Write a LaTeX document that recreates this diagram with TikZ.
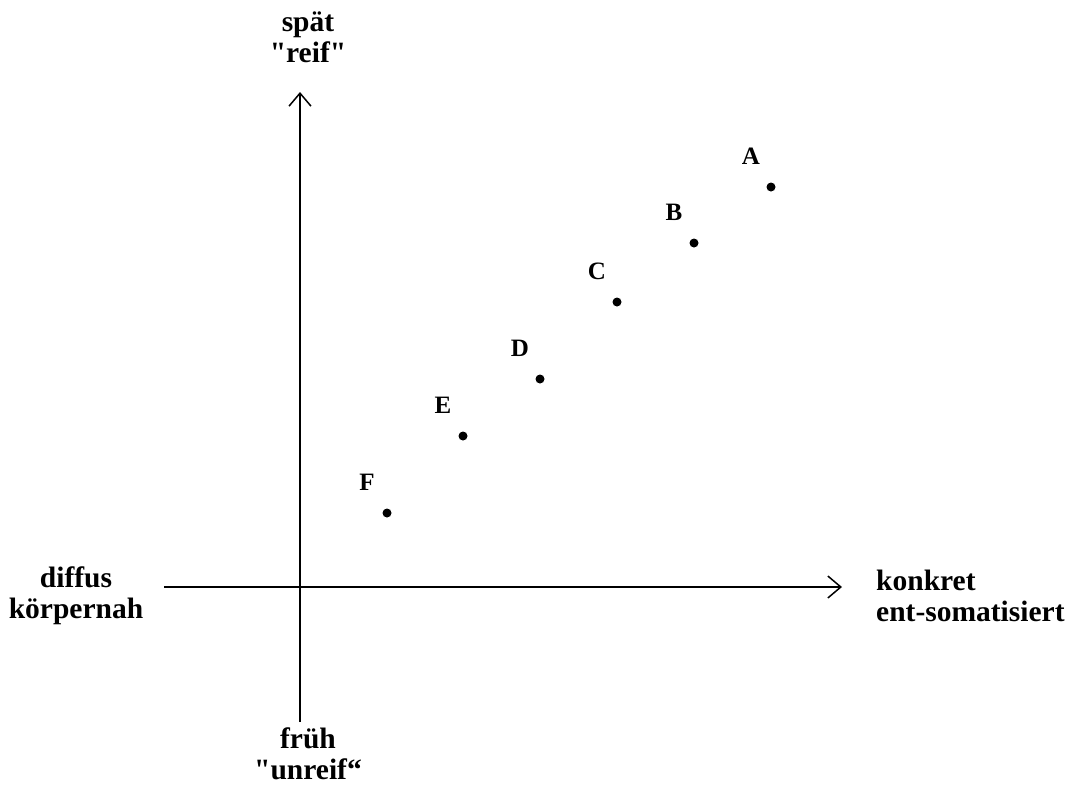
\documentclass[tikz,border=0pt]{standalone}
\usepackage{fontspec}
\setmainfont{Liberation Serif}
\usetikzlibrary{arrows.meta,calc}
\newcommand\strq{\XeTeXglyph\XeTeXcharglyph"22\relax}
\begin{document}
\begin{tikzpicture}[x=1pt,y=-1pt,
  axis/.style={line width=1.5pt,-{Straight Barb[length=13pt,width=22pt,line width=1.5pt]}},
  dot/.style={circle,fill=black,inner sep=0pt,minimum size=9pt},
  ptlbl/.style={font=\bfseries\fontsize{25}{28}\selectfont,inner sep=0pt},
  axlbl/.style={font=\bfseries\fontsize{29.5}{31}\selectfont,inner sep=0pt}]
\useasboundingbox (0,0) rectangle (1066,785);
% axes
\coordinate (ybot) at (300,722);
\coordinate (ytop) at (300,92);
\coordinate (xleft) at (164,587);
\coordinate (xright) at (842,587);
\draw[axis] (ybot) -- (ytop);
\draw[axis] (xleft) -- (xright);
% axis labels
\node[axlbl,align=center] (top) at (308,37) {spät\\\strq reif\strq};
\node[axlbl,align=center] (bot) at (308,754) {früh\\\strq unreif“};
\node[axlbl,align=center] (left) at (76,596) {diffus\\körpernah};
\node[axlbl,align=left,anchor=west] (right) at (876,596) {konkret\\ent-somatisiert};
% points
\node[dot] (A) at (771,187) {};
\node[dot] (B) at (694,243) {};
\node[dot] (C) at (617,302) {};
\node[dot] (D) at (540,379) {};
\node[dot] (E) at (463,436) {};
\node[dot] (F) at (387,513) {};
\node[ptlbl] (lA) at ($(A)+(-20,-31)$) {A};
\node[ptlbl] (lB) at ($(B)+(-20,-31)$) {B};
\node[ptlbl] (lC) at ($(C)+(-20,-31)$) {C};
\node[ptlbl] (lD) at ($(D)+(-20,-31)$) {D};
\node[ptlbl] (lE) at ($(E)+(-20,-31)$) {E};
\node[ptlbl] (lF) at ($(F)+(-20,-31)$) {F};
\end{tikzpicture}
\end{document}
